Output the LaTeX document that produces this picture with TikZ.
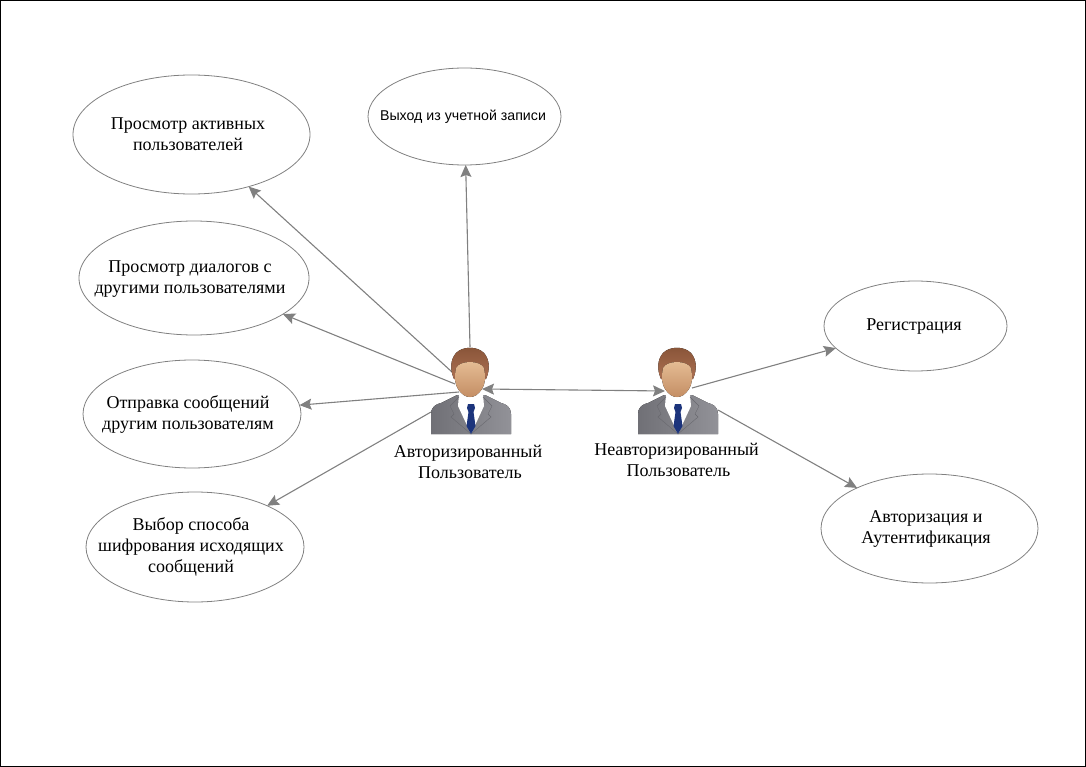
\documentclass[tikz,border=0pt]{standalone}
\usepackage{fontspec}
\setmainfont{Liberation Serif}
\newfontfamily\exitfont{Liberation Sans}
\usetikzlibrary{shapes,arrows.meta,positioning}

\definecolor{linkgray}{RGB}{128,128,128}
\definecolor{suitdark}{RGB}{112,112,118}
\definecolor{suitlight}{RGB}{146,146,152}
\definecolor{lapelgray}{RGB}{104,104,110}
\definecolor{hairtop}{RGB}{136,84,56}
\definecolor{hairlow}{RGB}{172,112,82}
\definecolor{facetop}{RGB}{230,190,150}
\definecolor{facelow}{RGB}{196,142,100}
\definecolor{tieblue}{RGB}{28,52,124}

\tikzset{
    person/.pic={
        % Suit
        \fill[left color=suitdark, right color=suitlight] (-40,44) -- (-40,24) .. controls (-40,17) and (-35,14) .. (-30,13) -- (-14,5) -- (14,5) -- (30,13) .. controls (35,14) and (40,17) .. (40,24) -- (40,44) -- cycle;
        % Shirt
        \fill[white] (-12,4) -- (12,4) -- (13,16) -- (0,44) -- (-13,16) -- cycle;
        % Lapels
        \draw[lapelgray, line width=0.4pt] (-12,7) -- (-21,16) -- (-17,24) -- (-20,27) -- (0,44) -- (20,27) -- (17,24) -- (21,16) -- (12,7);
        % Tie
        \fill[tieblue] (-3,14) -- (3,14) -- (4,18) -- (2.5,22) -- (4.5,36) -- (0,44) -- (-4.5,36) -- (-2.5,22) -- (-4,18) -- cycle;
        % Hair
        \fill[top color=hairtop, bottom color=hairlow] (-17,-11) .. controls (-21,-20) and (-21,-30) .. (-15,-37) .. controls (-8,-44) and (6,-44) .. (13,-37) .. controls (19,-30) and (19,-20) .. (15,-11) -- cycle;
        % Face
        \fill[top color=facetop, bottom color=facelow] (-15,-22) .. controls (-11,-30) and (9,-30) .. (13,-22) .. controls (15,-12) and (14,-6) .. (11,-1) .. controls (7,5) and (3,7) .. (-1,7) .. controls (-5,7) and (-9,5) .. (-13,-1) .. controls (-16,-6) and (-17,-12) .. (-15,-22) -- cycle;
    }
}

\begin{document}
\begin{tikzpicture}[x=1pt, y=-1pt, >={Stealth[length=12pt, width=11pt, inset=2pt]}]

    % Define block styles
    \tikzstyle{usecase} = [draw=linkgray, line width=0.8pt, ellipse, inner sep=0pt, outer sep=0pt]
    \tikzstyle{casetext} = [align=center, inner sep=0pt, font=\fontsize{18}{21}\selectfont]
    \tikzstyle{link} = [->, linkgray, line width=1.1pt]

    % Frame
    \draw[black, line width=1pt] (0.5,0.5) rectangle (1085.5,766.5);

    % Use cases of the authorized user
    \node[usecase, minimum width=237pt, minimum height=119pt] (active) at (191.5,134.5) {};
    \node[usecase, minimum width=193pt, minimum height=97pt] (logout) at (464.5,116.5) {};
    \node[usecase, minimum width=230pt, minimum height=114pt] (dialogs) at (194,278) {};
    \node[usecase, minimum width=218pt, minimum height=108pt] (send) at (192,414) {};
    \node[usecase, minimum width=218pt, minimum height=110pt] (cipher) at (195,547) {};

    % Use cases of the guest
    \node[usecase, minimum width=183pt, minimum height=90pt] (signup) at (915.5,326) {};
    \node[usecase, minimum width=217pt, minimum height=109pt] (signin) at (929.5,528.5) {};

    % Use case texts
    \node[casetext] (activetext) at (188,134) {Просмотр активных\\пользователей};
    \node[casetext, font=\fontsize{14.2}{18}\exitfont] (logouttext) at (463,117) {Выход из учетной записи};
    \node[casetext] (dialogstext) at (190,279) {Просмотр диалогов с\\другими пользователями};
    \node[casetext] (sendtext) at (188,414) {Отправка сообщений\\другим пользователям};
    \node[casetext] (ciphertext) at (191,547) {Выбор способа\\шифрования исходящих\\сообщений};
    \node[casetext] (signuptext) at (914,327) {Регистрация};
    \node[casetext] (signintext) at (926,529) {Авторизация и\\Аутентификация};

    % Connector ends on the figures
    \coordinate (authtop) at (470,347);
    \coordinate (authhair) at (452,372);
    \coordinate (authface) at (455,384);
    \coordinate (authchin) at (459,392);
    \coordinate (authsuit) at (431,412);
    \coordinate (authside) at (482,389);
    \coordinate (guestside) at (665,391);
    \coordinate (guestface) at (692,388);
    \coordinate (guestsuit) at (718,410);

    \draw[link] (authtop) -- (logout);
    \draw[link] (authhair) -- (active);
    \draw[link] (authface) -- (dialogs);
    \draw[link] (authchin) -- (send);
    \draw[link] (authsuit) -- (cipher);
    \draw[link] (guestface) -- (signup);
    \draw[link] (guestsuit) -- (signin);

    % Figures
    \pic at (471,390) {person};
    \pic at (678,390) {person};
    \draw[link, <->] (authside) -- (guestside);

    % Role labels
    \node[casetext] (authuser) at (468,461.5) {Авторизированный\\\hspace*{4pt}Пользователь};
    \node[casetext] (guest) at (676.5,460) {Неавторизированный\\\hspace*{4pt}Пользователь};

\end{tikzpicture}
\end{document}
